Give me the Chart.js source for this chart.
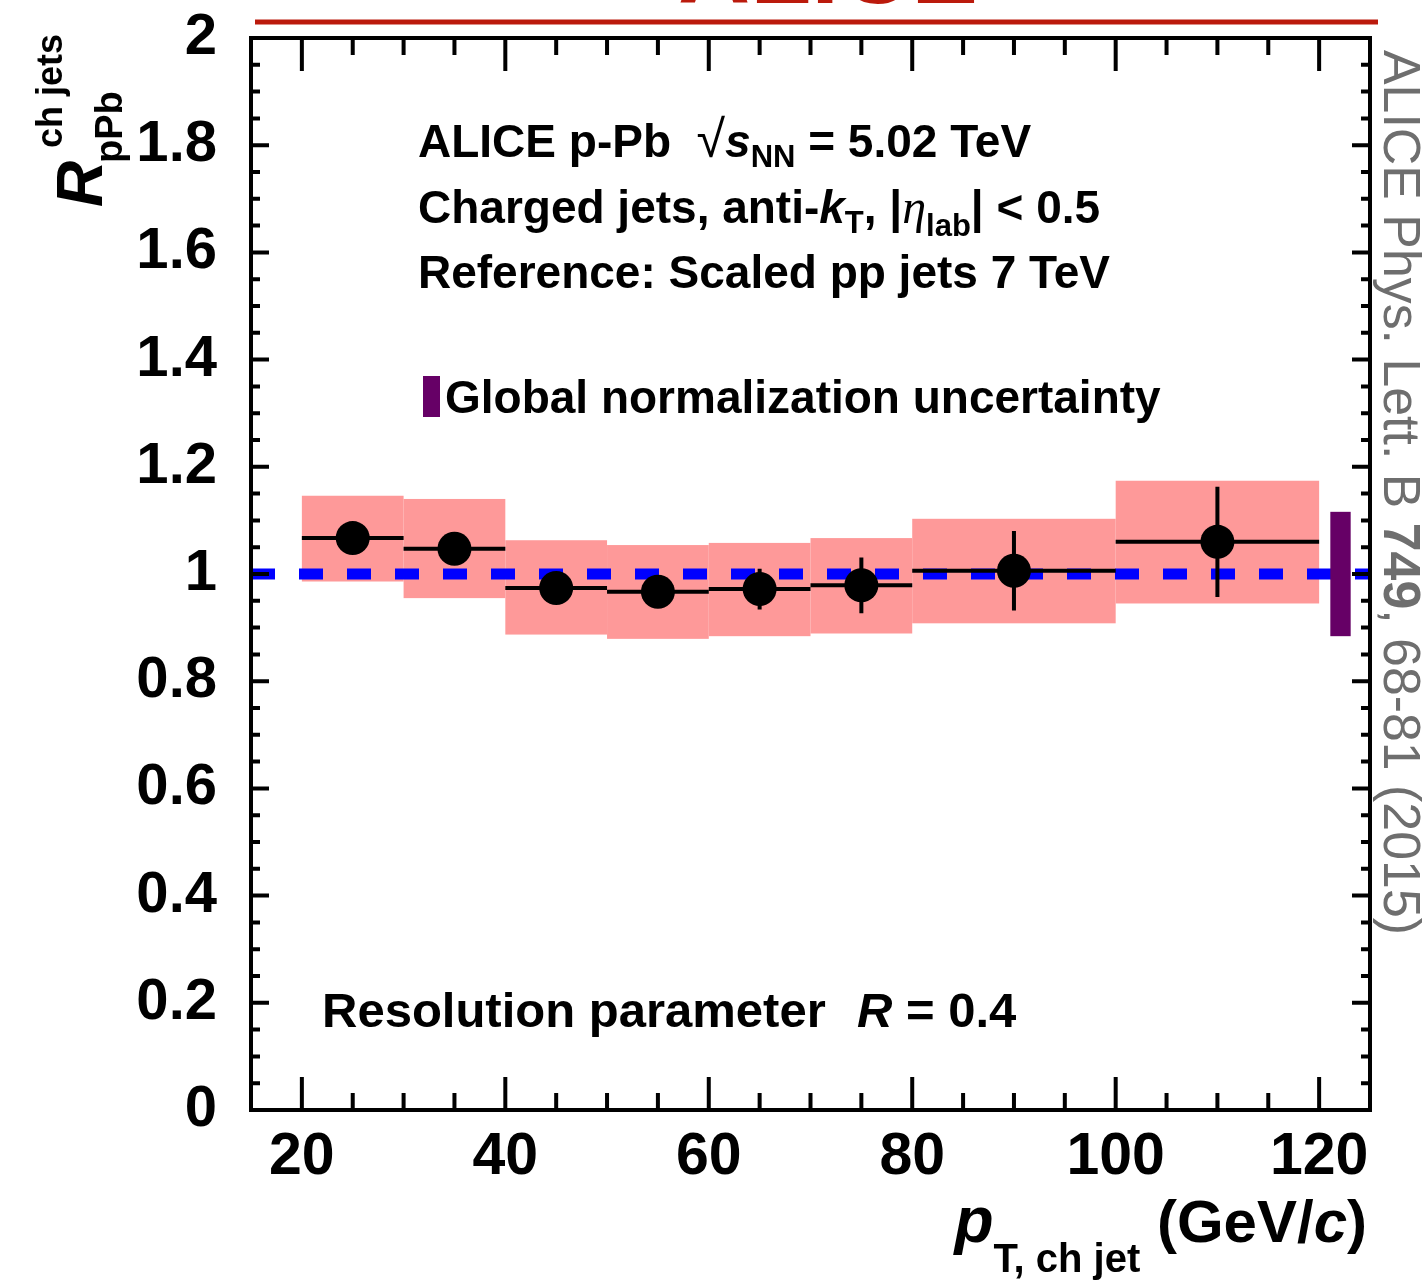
<!DOCTYPE html>
<html><head><meta charset="utf-8">
<script src="https://cdn.jsdelivr.net/npm/chart.js@4.4.0/dist/chart.umd.min.js"></script>
<style>html,body{margin:0;padding:0;background:#fff;overflow:hidden}#wrap{width:1426px;height:1280px;position:relative}</style>
</head><body>
<div id="wrap"><canvas id="c" width="1426" height="1280"></canvas></div>
<script>
// ---- data ----
const binLow    = [20, 30, 40, 50, 60, 70, 80, 100];
const binHigh   = [30, 40, 50, 60, 70, 80, 100, 120];
const binCenter = [25, 35, 45, 55, 65, 75, 90, 110];
const rpPb      = [1.067, 1.047, 0.974, 0.967, 0.972, 0.979, 1.006, 1.060];
const statErr   = [0.020, 0.020, 0.025, 0.028, 0.038, 0.052, 0.074, 0.103];
const systLow   = [0.986, 0.955, 0.887, 0.879, 0.884, 0.889, 0.908, 0.945];
const systHigh  = [1.146, 1.140, 1.063, 1.054, 1.058, 1.067, 1.103, 1.174];
const globalNormUnc = 0.116;
const refLevel  = 1;
const xTicks = [20, 40, 60, 80, 100, 120];
const yTicks = [0, 0.2, 0.4, 0.6, 0.8, 1, 1.2, 1.4, 1.6, 1.8, 2];
const xMin = 15, xMax = 125, yMin = 0, yMax = 2;

const FAM = "'Liberation Sans', Arial, Helvetica, sans-serif";
const AREA = {left: 251, top: 38, right: 1370, bottom: 1110};

function rich(ctx, x, y, parts, align) {
  let total = 0;
  parts.forEach(p => { ctx.font = p.f; total += ctx.measureText(p.t).width; });
  if (align === 'right') x -= total;
  parts.forEach(p => {
    ctx.font = p.f;
    ctx.fillStyle = p.c || '#000';
    ctx.fillText(p.t, x, y + (p.dy || 0));
    x += ctx.measureText(p.t).width;
  });
  return total;
}
const B = s => `bold ${s}px ${FAM}`;
const BI = s => `italic bold ${s}px ${FAM}`;
const N = s => `${s}px ${FAM}`;

const plug = {
  id: 'rootStyle',
  beforeDatasetsDraw(chart) {
    const {ctx, scales: {x, y}} = chart;
    ctx.save();
    ctx.fillStyle = '#fe9999';
    for (let i = 0; i < binLow.length; i++) {
      const x0 = x.getPixelForValue(binLow[i]), x1 = x.getPixelForValue(binHigh[i]);
      const y0 = y.getPixelForValue(systHigh[i]), y1 = y.getPixelForValue(systLow[i]);
      ctx.fillRect(x0, y0, x1 - x0, y1 - y0);
    }
    ctx.restore();
  },
  beforeDatasetDraw(chart, args) {
    if (args.index !== 1) return;
    const {ctx, scales: {x, y}} = chart;
    ctx.save();
    ctx.fillStyle = '#660066';
    const gx0 = x.getPixelForValue(121.1), gx1 = x.getPixelForValue(123.1);
    const gy0 = y.getPixelForValue(refLevel + globalNormUnc), gy1 = y.getPixelForValue(refLevel - globalNormUnc);
    ctx.fillRect(gx0, gy0, gx1 - gx0, gy1 - gy0);
    ctx.strokeStyle = '#000';
    ctx.lineWidth = 4;
    for (let i = 0; i < binLow.length; i++) {
      const py = y.getPixelForValue(rpPb[i]);
      ctx.beginPath();
      ctx.moveTo(x.getPixelForValue(binLow[i]), py);
      ctx.lineTo(x.getPixelForValue(binHigh[i]), py);
      const px = x.getPixelForValue(binCenter[i]);
      ctx.moveTo(px, y.getPixelForValue(rpPb[i] + statErr[i]));
      ctx.lineTo(px, y.getPixelForValue(rpPb[i] - statErr[i]));
      ctx.stroke();
    }
    ctx.restore();
  },
  afterDraw(chart) {
    const {ctx, chartArea: a, scales: {x, y}} = chart;
    ctx.save();
    ctx.strokeStyle = '#000';
    ctx.lineWidth = 4;
    ctx.lineCap = 'butt';
    ctx.strokeRect(a.left, a.top, a.right - a.left, a.bottom - a.top);
    ctx.beginPath();
    for (let v = Math.ceil(xMin / 5) * 5; v <= xMax; v += 5) {
      const px = x.getPixelForValue(v);
      const len = (v % 20 === 0) ? 33 : 17;
      ctx.moveTo(px, a.bottom); ctx.lineTo(px, a.bottom - len);
      ctx.moveTo(px, a.top); ctx.lineTo(px, a.top + len);
    }
    for (let k = 0; k <= 40; k++) {
      const v = yMin + k * 0.05;
      const py = y.getPixelForValue(v);
      const len = (k % 4 === 0) ? 18 : 9;
      ctx.moveTo(a.left, py); ctx.lineTo(a.left + len, py);
      ctx.moveTo(a.right, py); ctx.lineTo(a.right - len, py);
    }
    ctx.stroke();

    ctx.textBaseline = 'alphabetic';
    ctx.textAlign = 'left';
    // x title
    rich(ctx, 1367, 1242, [
      {t: 'p', f: BI(64)},
      {t: 'T, ch jet', f: B(40), dy: 30},
      {t: ' (GeV/', f: B(60)},
      {t: 'c', f: BI(60)},
      {t: ')', f: B(60)}
    ], 'right');

    // y title
    ctx.save();
    ctx.rotate(-Math.PI / 2);
    ctx.font = BI(64); ctx.fillStyle = '#000';
    ctx.fillText('R', -207, 102);
    ctx.font = B(36);
    ctx.fillText('ch jets', -148, 62);
    ctx.font = B(38);
    ctx.fillText('pPb', -163, 122);
    ctx.restore();

    // annotation text
    rich(ctx, 418, 157, [
      {t: 'ALICE p-Pb  ', f: B(46)},
      {t: '\u221A', f: N(52)},
      {t: 's', f: BI(46)},
      {t: 'NN', f: B(31), dy: 10},
      {t: ' = 5.02 TeV', f: B(46)}
    ]);
    rich(ctx, 418, 223, [
      {t: 'Charged jets, anti-', f: B(46)},
      {t: 'k', f: BI(46)},
      {t: 'T', f: B(31), dy: 10},
      {t: ', |', f: B(46)},
      {t: '\u03B7', f: `italic 48px 'Liberation Serif', serif`},
      {t: 'lab', f: B(31), dy: 13},
      {t: '| < 0.5', f: B(46)}
    ]);
    rich(ctx, 418, 288, [{t: 'Reference: Scaled pp jets 7 TeV', f: B(46)}]);
    ctx.fillStyle = '#660066';
    ctx.fillRect(423, 376, 17, 41);
    rich(ctx, 445, 413, [{t: 'Global normalization uncertainty', f: B(46)}]);
    rich(ctx, 322, 1027, [{t: 'Resolution parameter', f: B(49)}]);
    rich(ctx, 857, 1027, [
      {t: 'R', f: BI(49)},
      {t: ' = 0.4', f: B(49)}
    ]);

    // side reference text
    ctx.save();
    ctx.translate(1384, 50);
    ctx.rotate(Math.PI / 2);
    const sparts = [
      {t: 'ALICE Phys. Lett. B ', f: N(52), c: '#6e6e6e'},
      {t: '749', f: B(52), c: '#6e6e6e'},
      {t: ', 68-81 (2015)', f: N(52), c: '#6e6e6e'}
    ];
    let tw = 0; sparts.forEach(p => { ctx.font = p.f; tw += ctx.measureText(p.t).width; });
    ctx.scale(885 / tw, 1);
    rich(ctx, 0, 0, sparts);
    ctx.restore();

    // header logo (cut at top)
    ctx.strokeStyle = '#bb1a0c';
    ctx.lineWidth = 5;
    ctx.beginPath(); ctx.moveTo(255, 22); ctx.lineTo(1378, 22); ctx.stroke();
    ctx.fillStyle = '#bb1a0c';
    ctx.font = B(100);
    ctx.textAlign = 'center';
    ctx.fillText('ALICE', 828, 3);
    ctx.restore();
  }
};

const chart = new Chart(document.getElementById('c'), {
  type: 'scatter',
  data: {
    datasets: [
      {
        type: 'line',
        data: [{x: xMin, y: refLevel}, {x: xMax, y: refLevel}],
        borderColor: '#0000ff', borderWidth: 11, borderDash: [24, 24],
        pointRadius: 0, order: 2, fill: false
      },
      {
        data: binCenter.map((v, i) => ({x: v, y: rpPb[i]})),
        pointRadius: 17, pointBackgroundColor: '#000', pointBorderWidth: 0,
        showLine: false, order: 1
      }
    ]
  },
  options: {
    responsive: false, animation: false, events: [],
    layout: {padding: {left: 0, right: 56, top: 38, bottom: 0}},
    plugins: {legend: {display: false}, tooltip: {enabled: false}},
    scales: {
      x: {
        type: 'linear', position: 'bottom', min: xMin, max: xMax,
        grid: {display: false, drawTicks: false}, border: {display: false},
        afterBuildTicks: s => { s.ticks = xTicks.map(v => ({value: v})); },
        afterFit: s => { s.height = 170; s.paddingLeft = 0; s.paddingRight = 0; },
        ticks: {color: '#000', padding: 12, maxRotation: 0, autoSkip: false,
          font: {family: FAM, size: 59, weight: 'bold', lineHeight: 1.2},
          callback: v => String(v)}
      },
      y: {
        type: 'linear', position: 'left', min: yMin, max: yMax,
        grid: {display: false, drawTicks: false}, border: {display: false},
        afterBuildTicks: s => { s.ticks = yTicks.map(v => ({value: v})); },
        afterFit: s => { s.width = 251; s.paddingTop = 0; s.paddingBottom = 0; },
        ticks: {color: '#000', padding: 34, autoSkip: false,
          font: {family: FAM, size: 58, weight: 'bold', lineHeight: 1},
          callback: v => String(parseFloat(Number(v).toFixed(2)))}
      }
    }
  },
  plugins: [plug]
});
// make the plot frame land where the reference has it
(function fixArea() {
  for (let it = 0; it < 3; it++) {
    const ca = chart.chartArea, p = chart.options.layout.padding;
    const dT = ca.top - AREA.top, dB = ca.bottom - AREA.bottom, dL = ca.left - AREA.left, dR = ca.right - AREA.right;
    if (Math.abs(dT) < 0.5 && Math.abs(dB) < 0.5 && Math.abs(dL) < 0.5 && Math.abs(dR) < 0.5) break;
    p.top -= dT; p.bottom += dB; p.left -= dL; p.right += dR;
    chart.update();
  }
})();
</script>
</body></html>
